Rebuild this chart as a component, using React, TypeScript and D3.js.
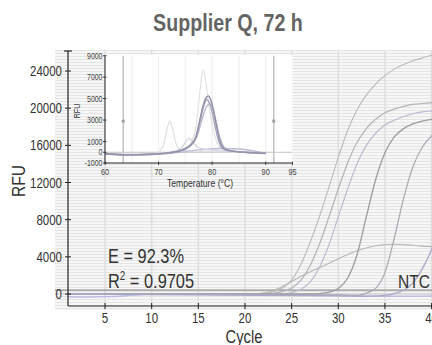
import React from 'react';
import * as d3 from 'd3';

// ---------- data ----------
const cycleTicks = [5, 10, 15, 20, 25, 30, 35, 40];
const rfuTicks = [0, 4000, 8000, 12000, 16000, 20000, 24000];
const tempTicks = [60, 70, 80, 90, 95];
const meltRfuTicks = [-1000, 0, 1000, 3000, 5000, 7000, 9000];
const threshold = 400;

// amplification curves [cycle, RFU]
const ampA: [number, number][] = [[1,0],[20,0],[22,80],[23,250],[24,650],[25,1500],[26,3200],[27,5600],[28,8400],[29,11500],[30,14700],[31,17600],[32,19800],[33,21400],[34,22600],[35,23500],[36,24200],[37,24700],[38,25100],[39,25400],[40,25700],[41,25900]];
const ampB: [number, number][] = [[1,0],[22,0],[23,80],[24,250],[25,650],[26,1500],[27,3100],[28,5400],[29,8300],[30,11300],[31,14100],[32,16300],[33,17800],[34,18800],[35,19500],[36,19900],[37,20200],[38,20400],[39,20500],[40,20600],[41,20700]];
const ampB2: [number, number][] = [[1,0],[24,0],[25,150],[26,500],[27,1300],[28,2900],[29,5300],[30,8300],[31,11300],[32,14000],[33,16000],[34,17300],[35,18200],[36,18700],[37,19100],[38,19400],[39,19600],[40,19700],[41,19800]];
const ampC: [number, number][] = [[1,0],[27,0],[28,50],[29,200],[30,600],[31,1700],[32,4200],[33,8300],[34,12300],[35,15200],[36,16900],[37,17800],[38,18300],[39,18600],[40,18800],[41,18900]];
const ampD: [number, number][] = [[1,0],[30,-100],[32,-150],[33,100],[34,600],[35,2300],[36,6000],[37,10300],[38,13700],[39,15800],[40,17000],[41,17700]];
const ampE: [number, number][] = [[1,0],[30,-200],[33,-250],[35,-150],[36,50],[37,400],[38,1200],[39,2700],[40,4800],[41,7600]];
const ampF: [number, number][] = [[1,0],[21,0],[22,100],[23,350],[24,800],[25,1350],[26,1900],[27,2400],[28,2850],[29,3300],[30,3800],[31,4250],[32,4650],[33,4950],[34,5200],[35,5300],[36,5350],[37,5300],[38,5250],[39,5150],[40,5100],[41,5050]];
const ampNTC: [number, number][] = [[1,-300],[3,-320],[6,-280],[8,-120],[10,0],[20,-50],[30,-150],[36,-250],[41,-200]];

// melt curves [temperature °C, RFU]
const meltMain1: [number, number][] = [[60,-150],[62,-200],[64,-250],[66,-230],[68,-200],[70,-150],[72,-50],[73,50],[74,150],[75,350],[76,700],[77,1500],[77.7,3000],[78.3,4300],[78.9,5100],[79.3,5250],[79.8,4800],[80.3,3800],[80.8,2500],[81.3,1300],[81.8,600],[82.5,250],[84,100],[86,0],[88,-50],[90,-100]];
const meltMain2: [number, number][] = [[60,-150],[64,-230],[68,-200],[72,-60],[74,120],[75,300],[76,650],[77,1400],[77.8,3000],[78.5,4400],[79.0,4900],[79.5,4600],[80.0,3700],[80.6,2300],[81.2,1100],[81.8,450],[83,150],[86,0],[90,-100]];
const meltMain3: [number, number][] = [[60,-150],[64,-220],[68,-200],[72,-50],[74,150],[76,600],[77.2,1500],[78.2,3200],[79.0,4300],[79.6,4500],[80.2,3900],[80.8,2700],[81.5,1300],[82.2,500],[83.5,150],[86,0],[90,-100]];
const meltTall: [number, number][] = [[60,-150],[66,-200],[70,-150],[73,0],[75,300],[76,800],[77,2500],[77.8,6000],[78.3,7700],[78.8,6600],[79.5,4000],[80.5,1500],[81.5,400],[83,100],[86,0],[90,-100]];
const meltSmall: [number, number][] = [[60,-150],[66,-200],[69,-150],[70,0],[71,800],[71.6,2200],[72.1,2900],[72.6,2200],[73.2,900],[74,250],[75,150],[77,100],[80,50],[85,0],[90,-100]];
const meltShoulder: [number, number][] = [[60,-150],[66,-200],[70,-150],[72,0],[74,300],[75,900],[75.6,1300],[76.2,1100],[76.8,700],[77.5,450],[78.5,300],[80,200],[84,50],[90,-100]];
const meltBroad: [number, number][] = [[60,-200],[65,-250],[70,-200],[74,0],[78,250],[82,350],[85,300],[88,100],[90,-100]];

// ---------- scales ----------
const x = d3.scaleLinear().domain([1, 40]).range([67.7, 431.6]);
const y = d3.scaleLinear().domain([0, 24000]).range([294, 71]);
const ix = d3.scaleLinear().domain([60, 95]).range([105, 292.5]);
const iy = d3.scaleLinear().domain([-1000, 9000]).range([163, 55.7]);

const ampLine = d3.line<[number, number]>().x(d => x(d[0])).y(d => y(d[1])).curve(d3.curveMonotoneX);
const meltLine = d3.line<[number, number]>().x(d => ix(d[0])).y(d => iy(d[1])).curve(d3.curveMonotoneX);

const FONT = "'Liberation Sans', Arial, sans-serif";
const SX = 0.82; // horizontal squeeze to emulate a condensed face

const ampSeries = [
  { d: ampNTC, c: '#bcbce0', w: 1.5 },
  { d: ampF, c: '#b6b6b6', w: 1.1 },
  { d: ampA, c: '#bababa', w: 1.1 },
  { d: ampB, c: '#b2b2ba', w: 1.2 },
  { d: ampB2, c: '#bcbcd0', w: 1.2 },
  { d: ampC, c: '#9c9c9c', w: 1.3 },
  { d: ampD, c: '#a8a8b2', w: 1.2 },
  { d: ampE, c: '#a8a8cc', w: 1.3 },
];

const meltSeries = [
  { d: meltTall, c: '#e2e2e2', w: 1.2 },
  { d: meltSmall, c: '#dedede', w: 1.2 },
  { d: meltBroad, c: '#bcbcdc', w: 1.4 },
  { d: meltShoulder, c: '#d2d2e2', w: 1.2 },
  { d: meltMain3, c: '#bcbccc', w: 1.4 },
  { d: meltMain2, c: '#a8a8bc', w: 1.4 },
  { d: meltMain1, c: '#9494ac', w: 1.6 },
];

type TP = { x: number; y: number; size: number; anchor?: string; rotate?: number; weight?: string; fill?: string; sx?: number; children: React.ReactNode };
function T({ x, y, size, anchor = 'start', rotate, weight, fill = '#333', sx = SX, children }: TP) {
  const tr = `translate(${x},${y})${rotate ? ` rotate(${rotate})` : ''} scale(${sx},1)`;
  return (
    <text transform={tr} textAnchor={anchor} fontSize={size} fontWeight={weight} fill={fill}>{children}</text>
  );
}

export default function App() {
  const plotL = 55, plotR = 432, plotT = 50, plotB = 310;
  return (
    <svg width={432} height={345} style={{ position: 'absolute', left: 0, top: 0, background: '#fff' }}
      fontFamily={FONT}>
      <defs>
        <pattern id="stripes" width="4" height="3" patternUnits="userSpaceOnUse">
          <rect width="4" height="3" fill="#f7f7f7" />
          <rect y="2" width="4" height="1" fill="#e4e4e4" />
        </pattern>
        <clipPath id="plotClip"><rect x={plotL} y={plotT} width={plotR - plotL} height={plotB - plotT} /></clipPath>
        <clipPath id="insetClip"><rect x={ix(60)} y={iy(9000) - 1} width={ix(95) - ix(60)} height={iy(-1000) - iy(9000) + 1} /></clipPath>
      </defs>

      {/* title */}
      <T x={228} y={30.5} size={24} anchor="middle" weight="bold" fill="#646464">Supplier Q, 72 h</T>

      {/* plot background */}
      <rect x={plotL} y={plotT} width={plotR - plotL} height={plotB - plotT} fill="url(#stripes)" />
      {cycleTicks.map(c => (
        <line key={'vg' + c} x1={x(c)} x2={x(c)} y1={plotT} y2={plotB} stroke="#dedede" strokeWidth={1.5} />
      ))}

      {/* amplification curves */}
      <g clipPath="url(#plotClip)">
        <line x1={plotL} x2={plotR} y1={y(0)} y2={y(0)} stroke="#c8c8c8" strokeWidth={1} />
        <line x1={plotL} x2={plotR} y1={y(threshold)} y2={y(threshold)} stroke="#acacac" strokeWidth={2} />
        {ampSeries.map((s, i) => (
          <path key={'a' + i} d={ampLine(s.d) || ''} fill="none" stroke={s.c} strokeWidth={s.w} />
        ))}
      </g>

      {/* main axes */}
      <line x1={68} x2={68} y1={51} y2={306} stroke="#222" strokeWidth={1.2} />
      <line x1={64} x2={72} y1={51} y2={51} stroke="#222" strokeWidth={1.2} />
      {rfuTicks.map(t => (
        <g key={'yt' + t}>
          <line x1={65} x2={71} y1={y(t)} y2={y(t)} stroke="#222" strokeWidth={1} />
          <T x={62} y={y(t) + 5} size={14} anchor="end">{t}</T>
        </g>
      ))}
      <line x1={68} x2={432} y1={306} y2={306} stroke="#222" strokeWidth={1.2} />
      {cycleTicks.map(c => (
        <g key={'xt' + c}>
          <line x1={x(c)} x2={x(c)} y1={303} y2={309} stroke="#222" strokeWidth={1} />
          <T x={x(c)} y={323} size={14} anchor="middle">{c}</T>
        </g>
      ))}
      <T x={244} y={342.5} size={18} anchor="middle">Cycle</T>
      <T x={25} y={181} size={19} anchor="middle" rotate={-90}>RFU</T>

      {/* annotations */}
      <T x={108} y={263} size={20}>E = 92.3%</T>
      <T x={108} y={288} size={20}>R<tspan dy={-8} fontSize={12}>2</tspan><tspan dy={8}> = 0.9705</tspan></T>
      <T x={430} y={287.5} size={19} anchor="end">NTC</T>

      {/* inset melt curve */}
      <rect x={ix(60)} y={iy(9000) - 1} width={ix(95) - ix(60)} height={iy(-1000) - iy(9000) + 1} fill="#fff" />
      {d3.range(65, 95, 5).map(t => (
        <line key={'ig' + t} x1={ix(t)} x2={ix(t)} y1={iy(9000)} y2={iy(-1000)} stroke="#f2f2f2" strokeWidth={1.5} />
      ))}
      <g clipPath="url(#insetClip)">
        <line x1={ix(60)} x2={ix(95)} y1={iy(0)} y2={iy(0)} stroke="#c4c4c4" strokeWidth={1} />
        <line x1={ix(63.4)} x2={ix(63.4)} y1={iy(9000)} y2={iy(-1000)} stroke="#c4c4c4" strokeWidth={1.5} />
        <line x1={ix(91.5)} x2={ix(91.5)} y1={iy(9000)} y2={iy(-1000)} stroke="#c4c4c4" strokeWidth={1.5} />
        <rect x={ix(63.4) - 1.5} y={iy(2900) - 1.5} width={3} height={3} fill="#a0a0a0" />
        <rect x={ix(91.5) - 1.5} y={iy(2900) - 1.5} width={3} height={3} fill="#a0a0a0" />
        {meltSeries.map((s, i) => (
          <path key={'m' + i} d={meltLine(s.d) || ''} fill="none" stroke={s.c} strokeWidth={s.w} />
        ))}
      </g>
      <line x1={ix(60)} x2={ix(60)} y1={iy(9000)} y2={iy(-1000)} stroke="#222" strokeWidth={1} />
      {meltRfuTicks.map(t => (
        <g key={'iyt' + t}>
          <line x1={ix(60) - 2} x2={ix(60) + 1.5} y1={iy(t)} y2={iy(t)} stroke="#222" strokeWidth={0.8} />
          <T x={ix(60) - 2.5} y={iy(t) + 3} size={8.5} anchor="end" fill="#444">{t}</T>
        </g>
      ))}
      <line x1={ix(60)} x2={ix(95)} y1={iy(-1000)} y2={iy(-1000)} stroke="#222" strokeWidth={1} />
      {tempTicks.map(t => (
        <g key={'ixt' + t}>
          <line x1={ix(t)} x2={ix(t)} y1={iy(-1000) - 1.5} y2={iy(-1000) + 2} stroke="#222" strokeWidth={0.8} />
          <T x={ix(t)} y={175} size={9} anchor="middle" fill="#444">{t}</T>
        </g>
      ))}
      <T x={200} y={187} size={10.5} anchor="middle">Temperature (°C)</T>
      <T x={80} y={111} size={9} anchor="middle" rotate={-90} fill="#444">RFU</T>
    </svg>
  );
}
